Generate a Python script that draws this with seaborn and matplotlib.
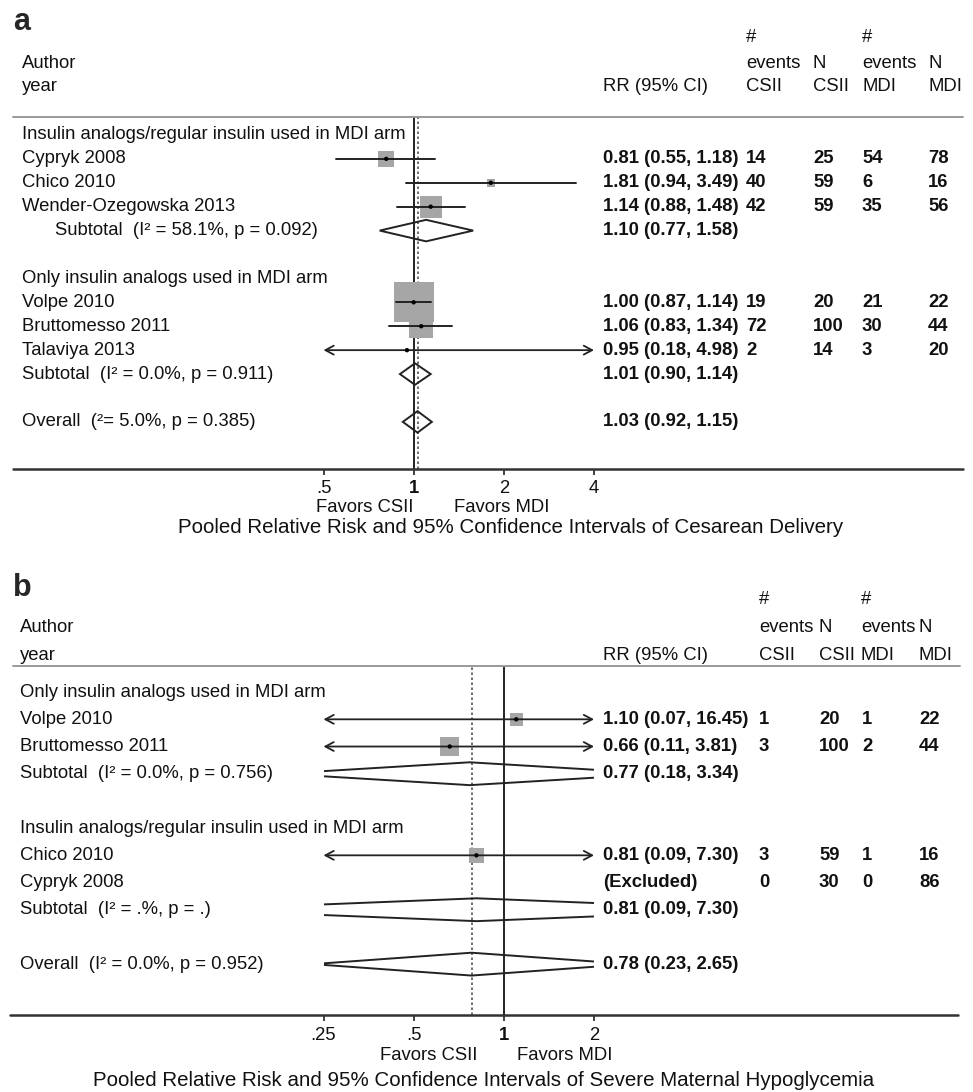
import numpy as np
import pandas as pd
import matplotlib
matplotlib.use("Agg")
import matplotlib.pyplot as plt
from matplotlib.lines import Line2D
from matplotlib.patches import Polygon
from matplotlib.ticker import NullLocator
from matplotlib.transforms import blended_transform_factory
import seaborn as sns

# ---- panel a: cesarean delivery ----
a_groups = ["Insulin analogs/regular insulin used in MDI arm",
            "Only insulin analogs used in MDI arm"]
a_study = ["Cypryk 2008", "Chico 2010", "Wender-Ozegowska 2013",
           "Volpe 2010", "Bruttomesso 2011", "Talaviya 2013"]
a_group_of = [0, 0, 0, 1, 1, 1]
a_rr = [0.81, 1.81, 1.14, 1.00, 1.06, 0.95]
a_lo = [0.55, 0.94, 0.88, 0.87, 0.83, 0.18]
a_hi = [1.18, 3.49, 1.48, 1.14, 1.34, 4.98]
a_ev_csii = [14, 40, 42, 19, 72, 2]
a_n_csii = [25, 59, 59, 20, 100, 14]
a_ev_mdi = [54, 6, 35, 21, 30, 3]
a_n_mdi = [78, 16, 56, 22, 44, 20]
a_weight = [8.6, 2.1, 16.2, 53.5, 19.3, 0.3]
a_sub_label = ["Subtotal  (I\u00b2 = 58.1%, p = 0.092)",
               "Subtotal  (I\u00b2 = 0.0%, p = 0.911)"]
a_sub_rr = [1.10, 1.01]
a_sub_lo = [0.77, 0.90]
a_sub_hi = [1.58, 1.14]
a_overall_label = "Overall  (\u00b2= 5.0%, p = 0.385)"
a_overall = [1.03, 0.92, 1.15]
a_ticks = [0.5, 1, 2, 4]
a_ticklabels = [".5", "1", "2", "4"]
a_title = "Pooled Relative Risk and 95% Confidence Intervals of Cesarean Delivery"

# ---- panel b: severe maternal hypoglycemia ----
b_groups = ["Only insulin analogs used in MDI arm",
            "Insulin analogs/regular insulin used in MDI arm"]
b_study = ["Volpe 2010", "Bruttomesso 2011", "Chico 2010", "Cypryk 2008"]
b_group_of = [0, 0, 1, 1]
b_rr = [1.10, 0.66, 0.81, np.nan]
b_lo = [0.07, 0.11, 0.09, np.nan]
b_hi = [16.45, 3.81, 7.30, np.nan]
b_ev_csii = [1, 3, 3, 0]
b_n_csii = [20, 100, 59, 30]
b_ev_mdi = [1, 2, 1, 0]
b_n_mdi = [22, 44, 16, 86]
b_weight = [22.4, 47.8, 29.8, 0.0]
b_sub_label = ["Subtotal  (I\u00b2 = 0.0%, p = 0.756)",
               "Subtotal  (I\u00b2 = .%, p = .)"]
b_sub_rr = [0.77, 0.81]
b_sub_lo = [0.18, 0.09]
b_sub_hi = [3.34, 7.30]
b_overall_label = "Overall  (I\u00b2 = 0.0%, p = 0.952)"
b_overall = [0.78, 0.23, 2.65]
b_ticks = [0.25, 0.5, 1, 2]
b_ticklabels = [".25", ".5", "1", "2"]
b_title = "Pooled Relative Risk and 95% Confidence Intervals of Severe Maternal Hypoglycemia"

W, H = 973, 1092
FS = 13.3
FS_TITLE = 14.8
DARK = "#222222"
TXT = "#111111"

sns.set_style("ticks")
plt.rcParams["font.family"] = ["Liberation Sans", "DejaVu Sans"]


def build_rows(groups, study, group_of, rr, lo, hi, ev_c, n_c, ev_m, n_m, weight,
               sub_label, sub_rr, sub_lo, sub_hi, ov_label, ov):
    rows = []
    r = 0
    for g, gname in enumerate(groups):
        rows.append(dict(row=r, kind="header", label=gname, group=g))
        r += 1
        for i in range(len(study)):
            if group_of[i] != g:
                continue
            rows.append(dict(row=r, kind="study", label=study[i], group=g,
                             rr=rr[i], lo=lo[i], hi=hi[i], ev_c=ev_c[i], n_c=n_c[i],
                             ev_m=ev_m[i], n_m=n_m[i], w=weight[i]))
            r += 1
        rows.append(dict(row=r, kind="sub", label=sub_label[g], group=g,
                         rr=sub_rr[g], lo=sub_lo[g], hi=sub_hi[g]))
        r += 2
    rows.append(dict(row=r, kind="overall", label=ov_label, group=-1,
                     rr=ov[0], lo=ov[1], hi=ov[2]))
    return pd.DataFrame(rows)


def px(x, y):
    return x / W, 1 - y / H


def draw_panel(fig, df, lay, ticks, ticklabels, title):
    # axes covers only the forest region; table text sits outside it
    x0, x1, ytop, ybot = lay["box"]
    ax = fig.add_axes([x0 / W, 1 - ybot / H, (x1 - x0) / W, (ybot - ytop) / H])
    ax.set_xscale("log", base=2)
    ax.set_xlim(*lay["xlim"])
    ax.set_ylim(lay["ylim"][1], lay["ylim"][0])
    for s in ax.spines.values():
        s.set_visible(False)
    ax.set_facecolor("none")

    xmin, xmax = lay["xlim"]
    ov = df[df.kind == "overall"].iloc[0]
    ax.axvline(1, color=DARK, lw=1.4, zorder=1)
    ax.axvline(ov.rr, color="#555555", lw=1.2, ls=(0, (1.5, 1.5)), zorder=1)

    st = df[(df.kind == "study") & df.rr.notna()].copy()
    st["side"] = lay["box_scale"] * np.sqrt(st["w"])
    sizes = (st["side"] * 0.72) ** 2
    sns.scatterplot(data=st, x="rr", y="row", s=sizes.values, marker="s",
                    color="#a6a6a6", edgecolor="none", linewidth=0, ax=ax,
                    legend=False, zorder=2)
    for _, r in st.iterrows():
        lo_c, hi_c = max(r.lo, xmin), min(r.hi, xmax)
        left, right = r.lo < xmin, r.hi > xmax
        if not (left or right):
            ax.plot([lo_c, hi_c], [r.row, r.row], color=DARK, lw=1.4, zorder=3)
        else:
            style = "<->" if (left and right) else ("<-" if left else "->")
            ax.annotate("", xy=(hi_c, r.row), xytext=(lo_c, r.row),
                        arrowprops=dict(arrowstyle=style + ",head_length=0.6,head_width=0.32",
                                        lw=1.3, color=DARK, shrinkA=0, shrinkB=0,
                                        mutation_scale=10),
                        annotation_clip=False, zorder=3)
    sns.scatterplot(data=st, x="rr", y="row", s=10, color="black", edgecolor="none",
                    ax=ax, legend=False, zorder=4)

    dh = lay["diamond_h"]
    for _, r in df[df.kind.isin(["sub", "overall"])].iterrows():
        poly = Polygon([[r.lo, r.row], [r.rr, r.row - dh], [r.hi, r.row], [r.rr, r.row + dh]],
                       closed=True, fill=False, ec=DARK, lw=1.4, zorder=3)
        ax.add_patch(poly)

    ax.set_xlabel("")
    ax.set_ylabel("")
    ax.set_yticks([])
    ax.set_xticks(ticks)
    ax.set_xticklabels(ticklabels)
    ax.xaxis.set_minor_locator(NullLocator())
    ax.tick_params(axis="x", direction="out", length=4, width=1.3, color="#333333",
                   pad=lay["tick_pad"], labelsize=FS, labelcolor=TXT)
    for t in ax.get_xticklabels():
        if t.get_text() == "1":
            t.set_fontweight("bold")

    # table text
    tr = blended_transform_factory(fig.transFigure, ax.transData)
    cx = lay["cols"]
    for _, r in df.iterrows():
        lx = cx["label"]
        if r.kind == "sub" and r.group in lay["indent_sub"]:
            lx = cx["indent"]
        ax.text(lx / W, r.row, r.label, transform=tr, va="center", fontsize=FS, color=TXT)
        if r.kind == "header":
            continue
        if r.kind == "study" and np.isnan(r.rr):
            rr_txt = "(Excluded)"
        else:
            rr_txt = f"{r.rr:.2f} ({r.lo:.2f}, {r.hi:.2f})"
        ax.text(cx["rr"] / W, r.row, rr_txt, transform=tr, va="center", fontsize=FS,
                fontweight="bold", color=TXT)
        if r.kind == "study":
            for key in ["ev_c", "n_c", "ev_m", "n_m"]:
                ax.text(cx[key] / W, r.row, str(int(r[key])), transform=tr, va="center",
                        fontsize=FS, fontweight="bold", color=TXT)

    # header lines and column titles
    hx0, hx1, hy = lay["head_line"]
    fig.add_artist(Line2D([hx0 / W, hx1 / W], [1 - hy / H] * 2, color="#9a9a9a", lw=1.4))
    bx0, bx1 = lay["axis_line"]
    fig.add_artist(Line2D([bx0 / W, bx1 / W], [1 - ybot / H] * 2, color="#333333", lw=1.8))
    for (x, y, s) in lay["head_text"]:
        fig.text(*px(x, y), s, va="center", fontsize=FS, color=TXT)
    lx, ly, letter = lay["letter"]
    fig.text(*px(lx, ly), letter, va="baseline", fontsize=22, fontweight="bold")
    for (x, y, s) in lay["favors"]:
        fig.text(*px(x, y), s, va="center", ha="center", fontsize=FS, color=TXT)
    tx, ty = lay["title_xy"]
    fig.text(*px(tx, ty), title, va="center", ha="center", fontsize=FS_TITLE, color=TXT)
    return ax


df_a = build_rows(a_groups, a_study, a_group_of, a_rr, a_lo, a_hi, a_ev_csii, a_n_csii,
                  a_ev_mdi, a_n_mdi, a_weight, a_sub_label, a_sub_rr, a_sub_lo, a_sub_hi,
                  a_overall_label, a_overall)
df_b = build_rows(b_groups, b_study, b_group_of, b_rr, b_lo, b_hi, b_ev_csii, b_n_csii,
                  b_ev_mdi, b_n_mdi, b_weight, b_sub_label, b_sub_rr, b_sub_lo, b_sub_hi,
                  b_overall_label, b_overall)

lay_a = dict(
    box=(323.5, 594, 117, 469), xlim=(0.5, 4), ylim=(-0.75, 13.97),
    box_scale=5.47, diamond_h=0.45, tick_pad=4,
    cols=dict(label=22, indent=55, rr=603, ev_c=746, n_c=813, ev_m=862, n_m=928),
    indent_sub=[0],
    head_line=(13, 963, 117), axis_line=(13, 963),
    head_text=[(22, 63, "Author"), (22, 87, "year"), (603, 87, "RR (95% CI)"),
               (746, 38, "#"), (746, 63, "events"), (746, 87, "CSII"),
               (813, 63, "N"), (813, 87, "CSII"),
               (862, 38, "#"), (862, 63, "events"), (862, 87, "MDI"),
               (928, 63, "N"), (928, 87, "MDI")],
    letter=(13, 30, "a"),
    favors=[(365, 508, "Favors CSII"), (502, 508, "Favors MDI")],
    title_xy=(511, 527),
)
lay_b = dict(
    box=(323.5, 594, 666, 1015), xlim=(0.25, 2), ylim=(-0.96, 11.87),
    box_scale=2.75, diamond_h=0.42, tick_pad=5,
    cols=dict(label=20, indent=20, rr=603, ev_c=759, n_c=819, ev_m=862, n_m=919),
    indent_sub=[],
    head_line=(13, 960, 666), axis_line=(10, 958),
    head_text=[(20, 627, "Author"), (20, 655, "year"), (603, 655, "RR (95% CI)"),
               (759, 600, "#"), (759, 627, "events"), (759, 655, "CSII"),
               (819, 627, "N"), (819, 655, "CSII"),
               (861, 600, "#"), (861, 627, "events"), (861, 655, "MDI"),
               (919, 627, "N"), (919, 655, "MDI")],
    letter=(13, 596, "b"),
    favors=[(429, 1055, "Favors CSII"), (565, 1055, "Favors MDI")],
    title_xy=(484, 1080),
)

fig = plt.figure(figsize=(W / 100, H / 100), dpi=100)
fig.patch.set_facecolor("white")
draw_panel(fig, df_a, lay_a, a_ticks, a_ticklabels, a_title)
draw_panel(fig, df_b, lay_b, b_ticks, b_ticklabels, b_title)

fig.savefig("out.png", dpi=100)
